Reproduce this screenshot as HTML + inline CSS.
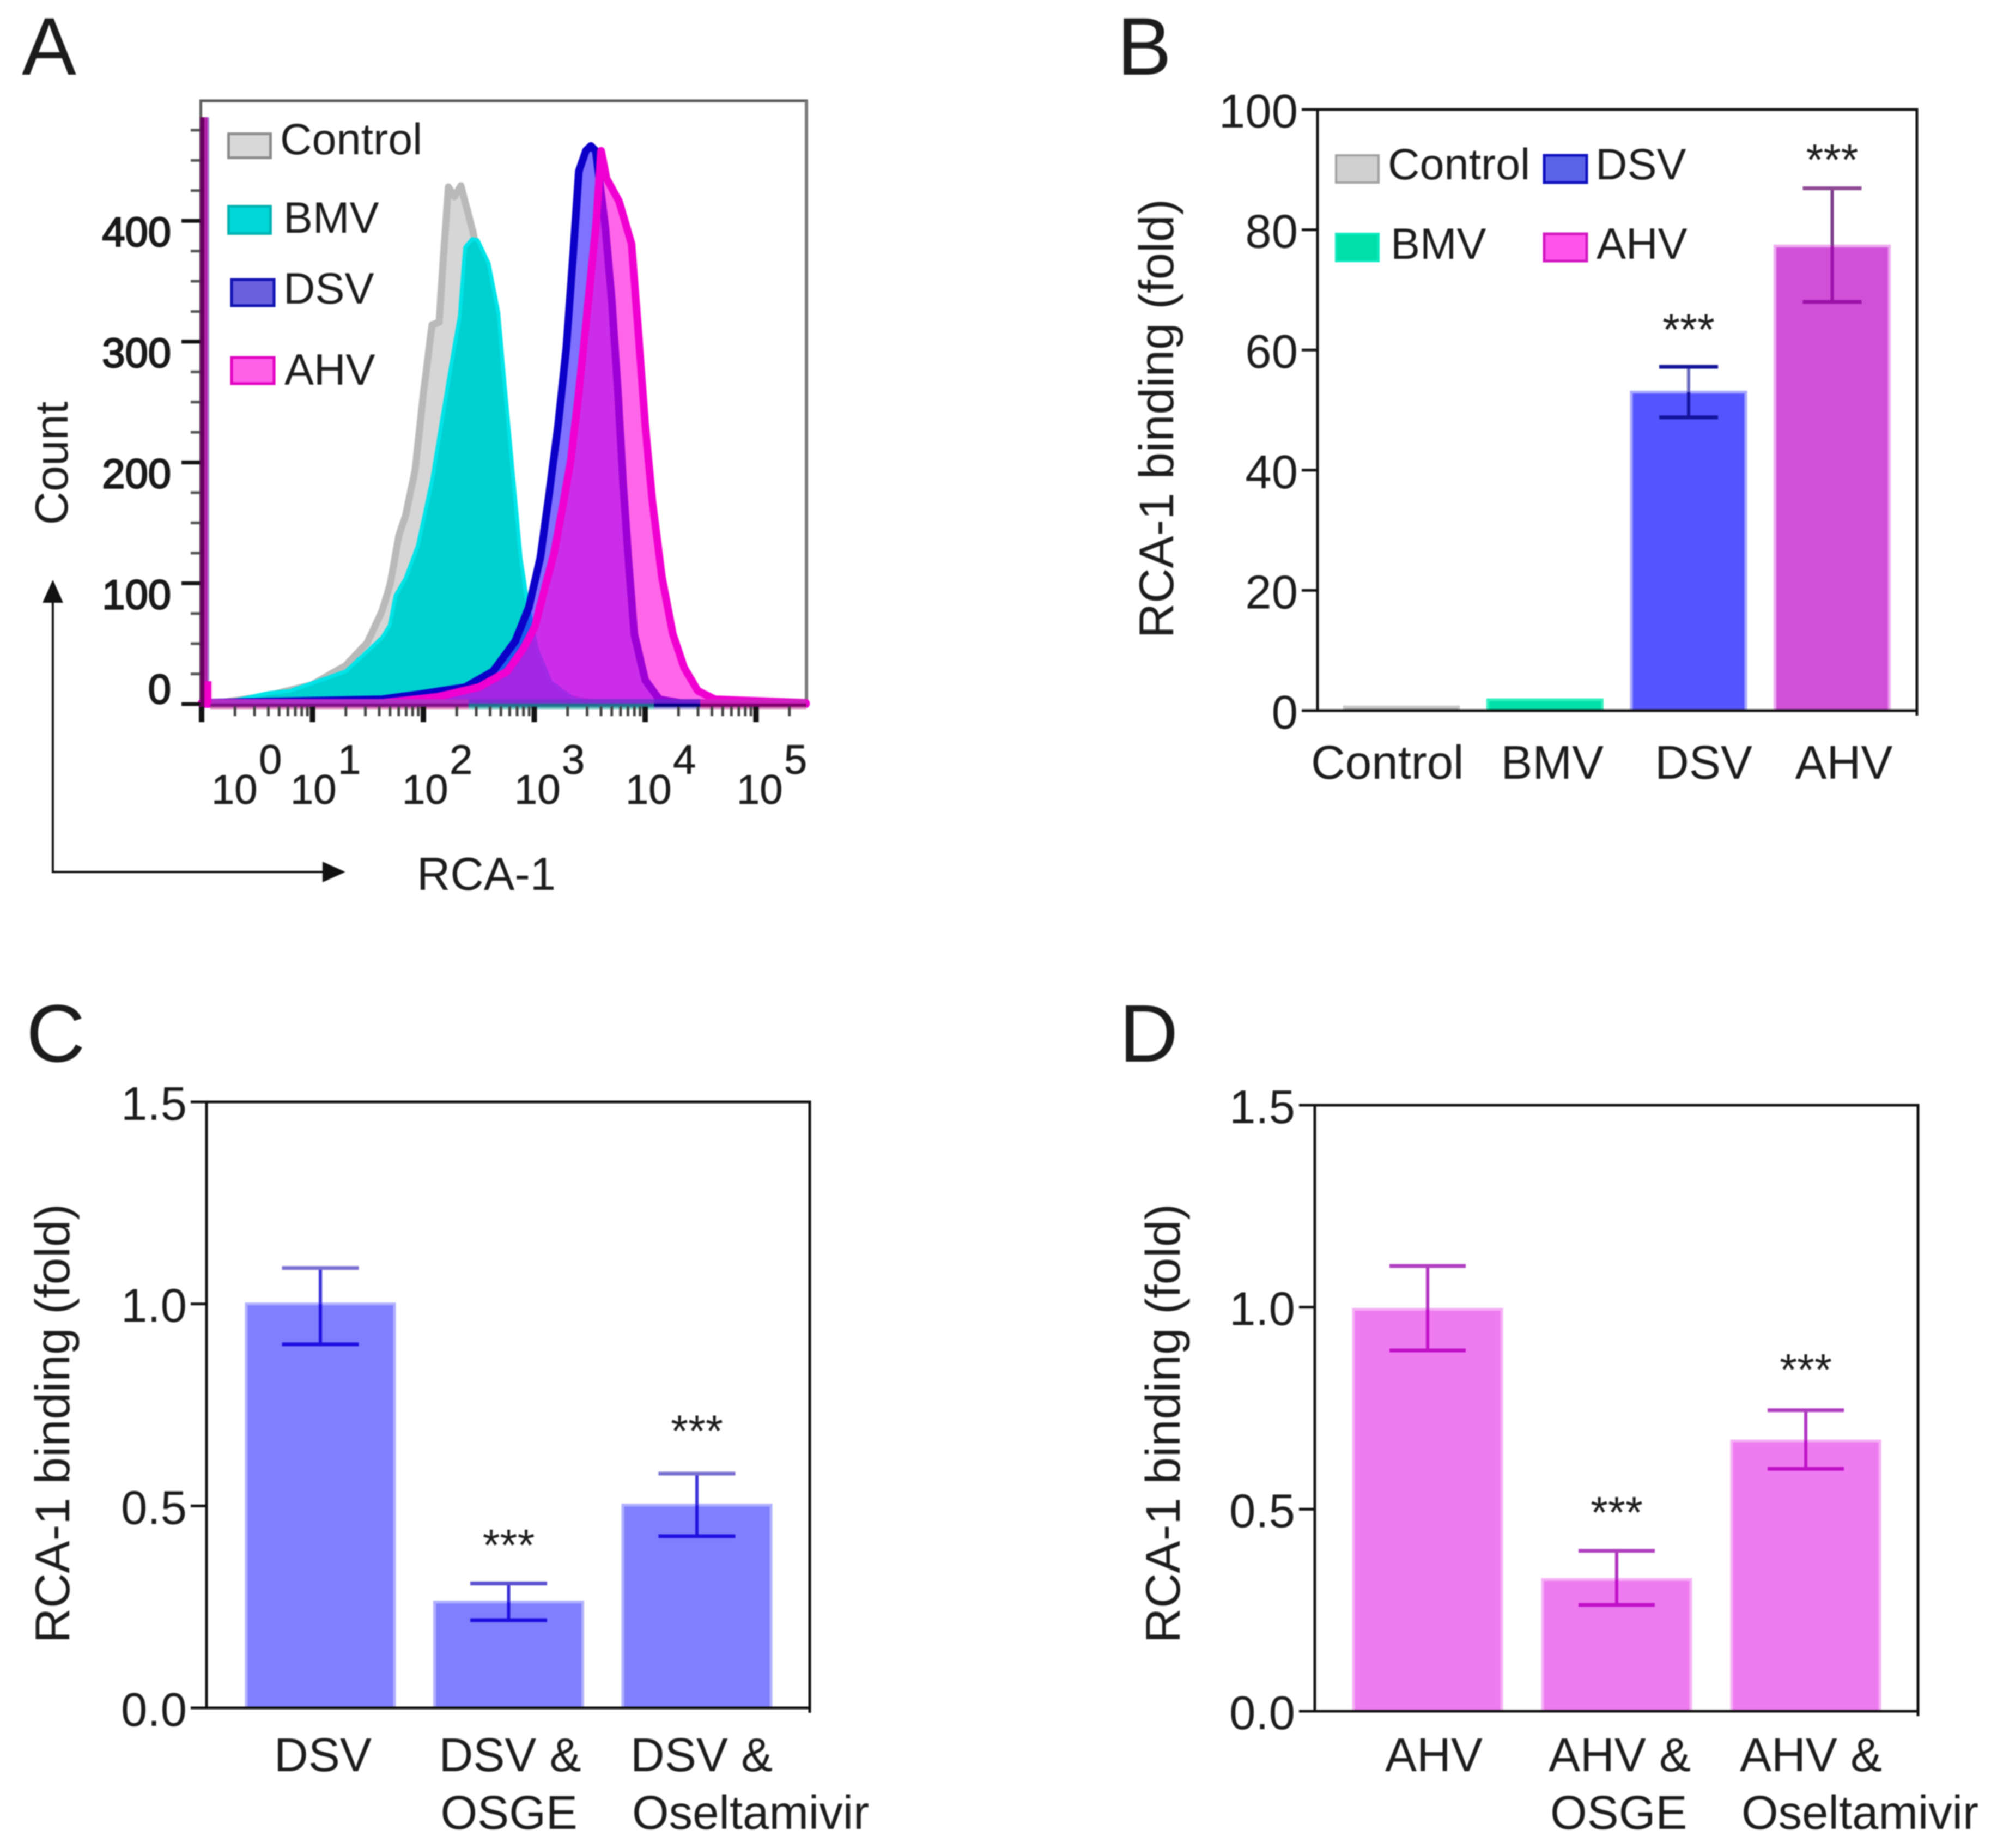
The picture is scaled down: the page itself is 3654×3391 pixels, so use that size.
<!DOCTYPE html>
<html lang="en">
<head>
<meta charset="utf-8">
<title>RCA-1 binding figure</title>
<style>
html,body{margin:0;padding:0;background:#fff;}
svg{display:block;filter:blur(1px);}
text{font-family:"Liberation Sans",Arial,sans-serif;fill:#1c1c1c;}
</style>
</head>
<body>
<svg id="fig" xmlns="http://www.w3.org/2000/svg" width="3654" height="3391" viewBox="0 0 3654 3391">
  <rect x="0" y="0" width="3654" height="3391" fill="#fff"/>
  <text x="40" y="137" font-size="150" fill="#111">A</text>
  <text x="2050" y="137" font-size="150" fill="#111">B</text>
  <text x="48" y="1948" font-size="150" fill="#111">C</text>
  <text x="2054" y="1948" font-size="150" fill="#111">D</text>

  <g id="panelA"></g>
  <g id="panelB"></g>
  <g id="panelC"></g>
  <g id="panelD"></g>

  <!-- Panel A annotations -->
  <g>
    <rect x="419.5" y="245.5" width="77" height="44" fill="#d8d8d8" stroke="#8a8a8a" stroke-width="5"/>
    <text x="514" y="283" font-size="81">Control</text>
    <rect x="419.5" y="378.5" width="77" height="50" fill="#00d6d8" stroke="#00b4b4" stroke-width="5"/>
    <text x="520" y="427" font-size="81">BMV</text>
    <rect x="425" y="513" width="78" height="48" fill="#6a60e0" stroke="#1010b0" stroke-width="5"/>
    <text x="520" y="557" font-size="81">DSV</text>
    <rect x="425" y="656" width="78" height="48" fill="#ff60e8" stroke="#e000c0" stroke-width="5"/>
    <text x="522" y="706" font-size="81">AHV</text>
  </g>
  <text transform="translate(124,850) rotate(-90)" text-anchor="middle" font-size="85">Count</text>
  <text x="765" y="1633" font-size="85">RCA-1</text>
  <g>
    <path d="M97 1600 V1100" stroke="#111" stroke-width="4" fill="none"/>
    <path d="M97 1064 L78 1106 L116 1106 Z" fill="#111"/>
    <path d="M95 1600 H600" stroke="#111" stroke-width="4" fill="none"/>
    <path d="M634 1600 L592 1581 L592 1619 Z" fill="#111"/>
  </g>

  <!-- Panel B annotations -->
  <text transform="translate(2153,768) rotate(-90)" text-anchor="middle" font-size="89">RCA-1 binding (fold)</text>
  <g>
    <rect x="2452" y="285" width="78" height="50" fill="#d0d0d0" stroke="#a0a0a0" stroke-width="4"/>
    <text x="2547" y="329" font-size="81">Control</text>
    <rect x="2834" y="285" width="78" height="50" fill="#5a62e8" stroke="#1010c0" stroke-width="5"/>
    <text x="2928" y="329" font-size="81">DSV</text>
    <rect x="2452" y="429" width="78" height="50" fill="#00dfa8" stroke="#10e8c0" stroke-width="4"/>
    <text x="2552" y="475" font-size="81">BMV</text>
    <rect x="2834" y="429" width="78" height="50" fill="#ff55ee" stroke="#d018c0" stroke-width="5"/>
    <text x="2930" y="475" font-size="81">AHV</text>
  </g>

  <text transform="translate(127,2612) rotate(-90)" text-anchor="middle" font-size="89">RCA-1 binding (fold)</text>
  <text transform="translate(2165,2612) rotate(-90)" text-anchor="middle" font-size="89">RCA-1 binding (fold)</text>
</svg>

<script>
// ---------- Panel A data (log10 fluorescence vs. cell count) ----------
var controlLog = [0,0.196,0.598,0.995,1.30,1.495,1.627,1.70,1.78,1.84,1.926,2.0,2.078,2.142,2.167,2.225,2.28,2.338,2.45,2.534,2.61,2.706,2.80,2.90,3.05,3.245,3.59];
var controlCount = [0,1.5,7,16,32,51,77,99,140,156,194,257,314,316,352,428,420,429,390,340,290,210,130,70,25,6,0];
var bmvLog = [0,0.196,0.598,0.80,1.30,1.627,1.696,1.75,1.84,1.95,2.078,2.152,2.255,2.328,2.377,2.44,2.49,2.588,2.676,2.725,2.804,2.877,2.94,3.025,3.147,3.343,3.59];
var bmvCount = [0,1,9,11,27,55,65,90,104,131,185,226,283,321,378,385,384,365,324,273,194,121,83,45,18,5,0];
var dsvLog = [0,1.627,1.95,2.377,2.627,2.828,2.951,3.054,3.127,3.216,3.289,3.353,3.402,3.466,3.51,3.554,3.578,3.642,3.70,3.755,3.804,3.853,3.902,4.0,4.127,4.377,5.45];
var dsvCount = [1,4,8,14,27,52,80,121,169,232,295,375,441,458,462,458,441,394,333,258,179,115,58,20,4,0,0];
var ahvLog = [0,1.627,2.127,2.50,2.755,2.902,3.005,3.103,3.176,3.255,3.328,3.402,3.48,3.554,3.603,3.652,3.765,3.877,3.941,4.0,4.064,4.152,4.25,4.353,4.475,4.627,5.45];
var ahvCount = [1,1,6,14,27,46,64,99,124,163,201,258,327,394,458,435,416,381,305,232,169,105,58,30,11,4,1];
var histYTicks = [0,100,200,300,400];
var histXDecades = [0,1,2,3,4,5];

// ---------- Panel B data ----------
var bCategories = ["Control","BMV","DSV","AHV"];
var bValues = [0.6,1.8,53,77.3];
var bErrHigh = [0.9,2.5,57.2,86.9];
var bErrLow = [0.6,1.8,48.8,68];
var bTicks = ["0","20","40","60","80","100"];

// ---------- Panel C data ----------
var cCategories = ["DSV","DSV &|OSGE","DSV &|Oseltamivir"];
var cValues = [1.0,0.262,0.502];
var cErrHigh = [1.089,0.308,0.58];
var cErrLow = [0.90,0.217,0.425];
var cTicks = ["0.0","0.5","1.0","1.5"];

// ---------- Panel D data ----------
var dCategories = ["AHV","AHV &|OSGE","AHV &|Oseltamivir"];
var dValues = [0.995,0.326,0.669];
var dErrHigh = [1.102,0.397,0.745];
var dErrLow = [0.893,0.263,0.60];
var dTicks = ["0.0","0.5","1.0","1.5"];

var NS = "http://www.w3.org/2000/svg";
function mk(parent, tag, attrs) {
  var el = document.createElementNS(NS, tag);
  for (var k in attrs) { el.setAttribute(k, attrs[k]); }
  parent.appendChild(el);
  return el;
}

// ---------- Histogram ----------
(function () {
  var g = document.getElementById("panelA");
  var baseY = 1292, unit = 2.217;
  function xOf(lg) { return 370 + lg * 203.5; }
  function yOf(c) { return baseY - c * unit; }
  function areaPath(xs, ys) {
    var d = "M" + xOf(xs[0]).toFixed(1) + " " + baseY;
    for (var i = 0; i < xs.length; i++) {
      d += " L" + xOf(xs[i]).toFixed(1) + " " + yOf(ys[i]).toFixed(1);
    }
    d += " L" + xOf(xs[xs.length - 1]).toFixed(1) + " " + baseY + " Z";
    return d;
  }

  var frame = mk(g, "path", {d: "M368.5 1292 V185 H1480 V1292", fill: "none", stroke: "#5a5a5a", "stroke-width": 5});
  
  
  var frameRight = mk(g, "line", {x1: 1480, y1: 185, x2: 1480, y2: 1292, stroke: "#7c7c7c", "stroke-width": 6});
  
  

  var ctl = mk(g, "path", {d: areaPath(controlLog, controlCount), fill: "#d6d6d6", stroke: "#b9b9b9", "stroke-width": 13, "stroke-linejoin": "round"});
  
  
  var bmv = mk(g, "path", {d: areaPath(bmvLog, bmvCount), fill: "#00d0d0", stroke: "#00e4e8", "stroke-width": 7, "stroke-linejoin": "round"});
  
  
  var dsv = mk(g, "path", {d: areaPath(dsvLog, dsvCount), fill: "rgb(40,20,255)", "fill-opacity": 0.6, stroke: "#0a00c8", "stroke-width": 14, "stroke-linejoin": "round"});
  
  
  var ahvFill = mk(g, "path", {d: areaPath(ahvLog, ahvCount), fill: "rgb(255,0,220)", "fill-opacity": 0.6, stroke: "#f000d0", "stroke-width": 14, "stroke-linejoin": "round"});
  
  

  // baseline strip, segmented by the colour seen through it
  var stripXs = [386, 860, 1200, 1285, 1480];
  var stripUpper = ["#b030c8", "#8030d0", "#7020d0", "#d020c0"];
  var stripLower = ["#80108a", "#207090", "#000080", "#800070"];
  var stripUnder = ["#d070b0", "#60b8b8", "#8888d0", "#d070b0"];
  for (var s = 0; s < 4; s++) {
    var w = stripXs[s + 1] - stripXs[s];
    var up = mk(g, "rect", {x: stripXs[s], y: 1283, width: w, height: 8, fill: stripUpper[s]});
    
    
    var low = mk(g, "rect", {x: stripXs[s], y: 1291, width: w, height: 6, fill: stripLower[s]});
    
    
    var und = mk(g, "rect", {x: stripXs[s], y: 1297, width: w, height: 4, fill: stripUnder[s]});
    
    
  }
  // left edge line
  var edge3 = mk(g, "rect", {x: 380, y: 215, width: 4, height: 1070, fill: "#a884d4"});
  
  
  var edge1 = mk(g, "rect", {x: 374, y: 215, width: 7, height: 1040, fill: "#b020a8"});
  
  
  var edge4 = mk(g, "rect", {x: 372, y: 1250, width: 16, height: 42, fill: "#f000c8"});
  
  
  var edge2 = mk(g, "rect", {x: 367, y: 215, width: 8, height: 1085, fill: "#680060"});
  
  

  // y ticks
  histYTicks.forEach(function (t) {
    var y = yOf(t);
    var tick = mk(g, "line", {x1: 333, y1: y, x2: 367, y2: y, stroke: "#111", "stroke-width": 7});
    
    
    var lab = mk(g, "text", {x: 314, y: t === 0 ? y - 1 : y + 47, "text-anchor": "end", "font-size": 76, stroke: "#111", "stroke-width": 2.4});
    
    
    lab.textContent = String(t);
  });
  for (var m = 25; m <= 475; m += 25) {
    if (m % 100 === 0) { continue; }
    var my = yOf(m);
    var mt = mk(g, "line", {x1: 350, y1: my, x2: 367, y2: my, stroke: "#555", "stroke-width": 5});
    
    
  }

  // x ticks
  var labelStart = [388, 533, 738, 944, 1148, 1352];
  histXDecades.forEach(function (dec, i) {
    var x = xOf(dec);
    var tick = mk(g, "line", {x1: x, y1: 1297, x2: x, y2: 1325, stroke: "#111", "stroke-width": 10});
    
    
    if (dec < 5) {
      for (var k = 2; k <= 9; k++) {
        var mx = xOf(dec + Math.log10(k));
        var mn = mk(g, "line", {x1: mx, y1: 1297, x2: mx, y2: 1314, stroke: "#444", "stroke-width": 5});
        
        
      }
    }
    var base = mk(g, "text", {x: labelStart[i], y: 1475, "font-size": 76, stroke: "#1c1c1c", "stroke-width": 0.8});
    
    
    base.textContent = "10";
    var sup = mk(g, "text", {x: labelStart[i] + 87, y: 1420, "font-size": 76, stroke: "#1c1c1c", "stroke-width": 0.8});
    
    
    sup.textContent = String(dec);
  });
  // minor tick beyond 10^5
  var lastMinor = mk(g, "line", {x1: xOf(5.301), y1: 1297, x2: xOf(5.301), y2: 1314, stroke: "#444", "stroke-width": 5});
  
  
})();

// ---------- Bar charts ----------
function barChart(c) {
  var g = document.getElementById(c.id);
  function yOf(v) { return c.bottom - (v / c.max) * (c.bottom - c.top); }
  function band(i) { return c.firstCenter + i * c.step; }

  c.values.forEach(function (v, i) {
    var cx = band(i);
    var y = yOf(v);
    var bar = mk(g, "rect", {x: cx - c.barW / 2, y: y, width: c.barW, height: c.bottom - y, fill: c.fills[i], stroke: c.edges[i], "stroke-width": 5});
    
    

    if (c.errs[i]) {
      var hi = yOf(c.high[i]), lo = yOf(c.low[i]);
      var stemUp = mk(g, "line", {x1: cx, y1: hi, x2: cx, y2: y, stroke: c.errUp[i], "stroke-width": 6});
      
      
      var stemDown = mk(g, "line", {x1: cx, y1: y, x2: cx, y2: lo, stroke: c.errDown[i], "stroke-width": 6});
      
      
      var capUp = mk(g, "line", {x1: cx - c.capW / 2, y1: hi, x2: cx + c.capW / 2, y2: hi, stroke: c.capUp[i], "stroke-width": 7});
      
      
      var capDown = mk(g, "line", {x1: cx - c.capW / 2, y1: lo, x2: cx + c.capW / 2, y2: lo, stroke: c.errDown[i], "stroke-width": 7});
      
      
    }
    if (c.starGap[i]) {
      var star = mk(g, "text", {x: cx, y: yOf(c.high[i]) - c.starGap[i] + 41, "text-anchor": "middle", "font-size": 82, fill: "#2a2a2a"});
      
      
      star.textContent = "***";
    }

    c.cats[i].split("|").forEach(function (line, li) {
      var lab = mk(g, "text", {x: cx + c.labelShift[i] + (li ? 3 : 0), y: c.labelY + li * 106, "font-size": 87});
      
      
      lab.textContent = line;
    });
  });

  var frame = mk(g, "path", {d: "M" + c.left + " " + c.bottom + " V" + c.top + " H" + c.right + " V" + c.bottom + " H" + c.left, fill: "none", stroke: "#111", "stroke-width": 5});
  
  
  var endTick = mk(g, "line", {x1: c.right, y1: c.bottom, x2: c.right, y2: c.bottom + 9, stroke: "#111", "stroke-width": 5});
  
  

  c.ticks.forEach(function (t) {
    var y = yOf(parseFloat(t));
    var tick = mk(g, "line", {x1: c.left - 29, y1: y, x2: c.left, y2: y, stroke: "#111", "stroke-width": 5});
    
    
    var lab = mk(g, "text", {x: c.left - 36, y: y + 33, "text-anchor": "end", "font-size": 87});
    
    
    lab.textContent = t;
  });
}

barChart({
  id: "panelB", left: 2418, right: 3518, top: 201, bottom: 1304, max: 100,
  firstCenter: 2572, step: 263.5, barW: 210, capW: 108, labelY: 1429,
  cats: bCategories, values: bValues, high: bErrHigh, low: bErrLow, ticks: bTicks,
  fills: ["#aaaaaa", "#00e0a8", "#5555ff", "#d050d8"],
  edges: ["#c8c8c8", "#30f0c0", "#a8a8ff", "#eeaaf0"],
  errs: [false, false, true, true],
  errUp: ["", "", "#6a6abf", "#7a3a8a"],
  capUp: ["", "", "#14149c", "#8e4a95"],
  errDown: ["", "", "#14149c", "#9a10a8"],
  starGap: [0, 0, 81, 65],
  labelShift: [-166, -81, -62, -68]
});
barChart({
  id: "panelC", left: 379, right: 1486, top: 2022, bottom: 3134, max: 1.5,
  firstCenter: 588, step: 345.5, barW: 272, capW: 141, labelY: 3250,
  cats: cCategories, values: cValues, high: cErrHigh, low: cErrLow, ticks: cTicks,
  fills: ["#8080ff", "#8080ff", "#8080ff"],
  edges: ["#b0b0ff", "#b0b0ff", "#b0b0ff"],
  errs: [true, true, true],
  errUp: ["#3a30d8", "#3a30d8", "#3a30d8"],
  capUp: ["#7a70d0", "#5a50d0", "#7a70d0"],
  errDown: ["#2010e0", "#2010e0", "#2010e0"],
  starGap: [0, 83, 91],
  labelShift: [-85, -128, -122]
});
barChart({
  id: "panelD", left: 2413, right: 3520, top: 2028, bottom: 3140, max: 1.5,
  firstCenter: 2620, step: 347, barW: 272, capW: 140, labelY: 3250,
  cats: dCategories, values: dValues, high: dErrHigh, low: dErrLow, ticks: dTicks,
  fills: ["#ee7cf0", "#ee7cf0", "#ee7cf0"],
  edges: ["#f6b0f6", "#f6b0f6", "#f6b0f6"],
  errs: [true, true, true],
  errUp: ["#b030c0", "#b030c0", "#b030c0"],
  capUp: ["#b040c0", "#b040c0", "#b040c0"],
  errDown: ["#c010c8", "#c010c8", "#c010c8"],
  starGap: [0, 83, 87],
  labelShift: [-78, -125, -121]
});
</script>
</body>
</html>
